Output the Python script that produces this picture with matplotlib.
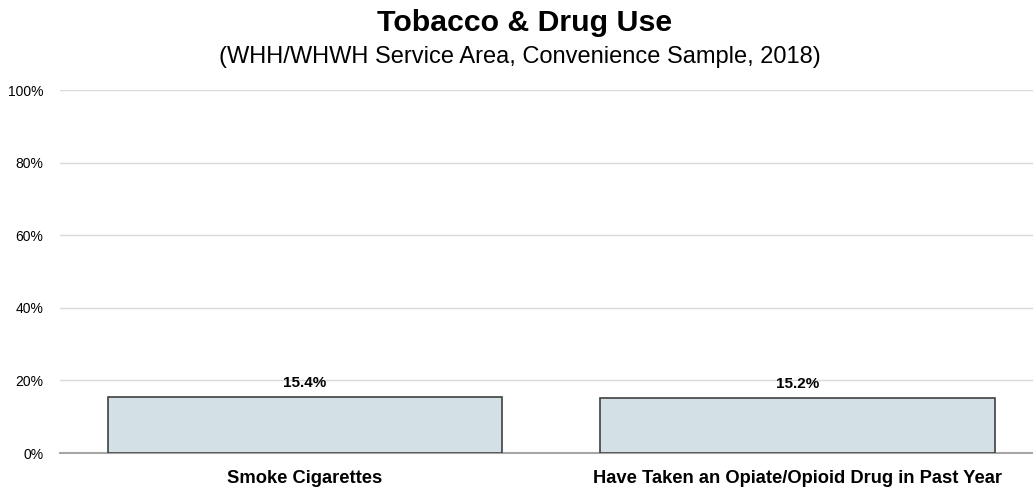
import matplotlib.pyplot as plt

categories = ["Smoke Cigarettes", "Have Taken an Opiate/Opioid Drug in Past Year"]
values = [15.4, 15.2]
yticks = [0, 20, 40, 60, 80, 100]

plt.rcParams['font.family'] = ['Liberation Sans', 'DejaVu Sans']

fig = plt.figure(figsize=(10.33, 4.93), dpi=100)
ax = fig.add_axes([0.058, 0.0811, 0.942, 0.7363])

x = range(len(categories))
ax.bar(x, values, width=0.8, color="#d3e0e5", edgecolor="#404040", linewidth=1.2, zorder=3)

for i, v in zip(x, values):
    ax.annotate(f"{v:.1f}%", (i, v), xytext=(0, 5), textcoords="offset points",
                ha="center", va="bottom", fontsize=11, fontweight="bold", zorder=4)

ax.set_xlim(-0.497, 1.478)
ax.set_ylim(0, 100)
ax.set_yticks(yticks)
ax.set_yticklabels([f"{t}%" for t in yticks], fontsize=10)
ax.set_xticks(list(x))
ax.set_xticklabels(categories, fontsize=13.2, fontweight="bold")
ax.tick_params(axis="both", length=0)
ax.tick_params(axis="x", pad=12)
ax.tick_params(axis="y", pad=12)

ax.grid(axis="y", color="#d9d9d9", linewidth=1, zorder=0)
for s in ["top", "right", "left"]:
    ax.spines[s].set_visible(False)
ax.spines["bottom"].set_color("#a6a6a6")
ax.spines["bottom"].set_linewidth(1.5)

fig.text(0.508, 0.953, "Tobacco & Drug Use", ha="center", va="center",
         fontsize=21.8, fontweight="bold")
fig.text(0.503, 0.884, "(WHH/WHWH Service Area, Convenience Sample, 2018)", ha="center",
         va="center", fontsize=17)

fig.savefig("out.png", dpi=100)
